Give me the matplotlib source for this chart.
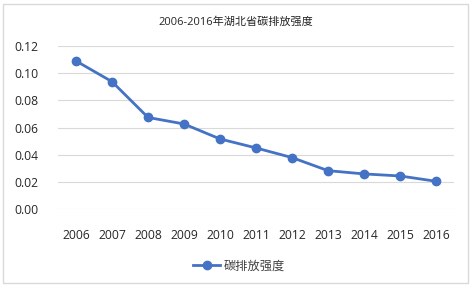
import matplotlib
matplotlib.use("Agg")
import matplotlib.pyplot as plt
from matplotlib.patches import Rectangle

plt.rcParams['font.family'] = ['Open Sans', 'Noto Sans CJK SC', 'DejaVu Sans']

years = ['2006', '2007', '2008', '2009', '2010', '2011', '2012', '2013', '2014', '2015', '2016']
intensity = [0.109, 0.0938, 0.0675, 0.0627, 0.0517, 0.0451, 0.0380, 0.0284, 0.0260, 0.0245, 0.0206]
yticks = [0.00, 0.02, 0.04, 0.06, 0.08, 0.10, 0.12]
title = '2006-2016年湖北省碳排放强度'
series_name = '碳排放强度'

W, H = 472, 287
fig = plt.figure(figsize=(W / 100, H / 100), dpi=100)
ax = fig.add_axes([58 / W, 1 - 209.3 / H, (454 - 58) / W, (209.3 - 46) / H])

x = list(range(len(years)))
ax.plot(x, intensity, color='#4472C4', linewidth=2.0, marker='o', markersize=6,
        markerfacecolor='#4472C4', markeredgecolor='#4472C4', label=series_name, zorder=3)

ax.set_xlim(-0.5, len(years) - 0.5)
ax.set_ylim(0, 0.12)
ax.set_yticks(yticks)
ax.set_yticklabels([f'{v:.2f}' for v in yticks], fontsize=8.7, color='#262626')
ax.set_xticks(x)
ax.set_xticklabels(years, fontsize=8.7, color='#262626')
ax.tick_params(length=0)
ax.tick_params(axis='y', pad=14)
ax.tick_params(axis='x', pad=14)
ax.grid(axis='y', color='#d9d9d9', linewidth=0.8)
ax.set_axisbelow(True)
for s in ax.spines.values():
    s.set_visible(False)

fig.text(236 / W, 1 - 22 / H, title, ha='center', va='center', fontsize=8,
         color='#262626', family=['Open Sans', 'Noto Sans CJK SC', 'DejaVu Sans'])

leg = fig.legend(loc='center', bbox_to_anchor=(239 / W, 1 - 266 / H), frameon=False,
                 handlelength=2.2, handletextpad=0.3,
                 prop={'family': ['Noto Sans CJK SC', 'DejaVu Sans'], 'size': 8.8})
for t in leg.get_texts():
    t.set_color('#404040')

fig.patches.append(Rectangle((3 / W, 4 / H), (465 / W), (279 / H), transform=fig.transFigure,
                             fill=False, edgecolor='#d9d9d9', linewidth=1.0))

fig.savefig('out.png', dpi=100, facecolor='white')
